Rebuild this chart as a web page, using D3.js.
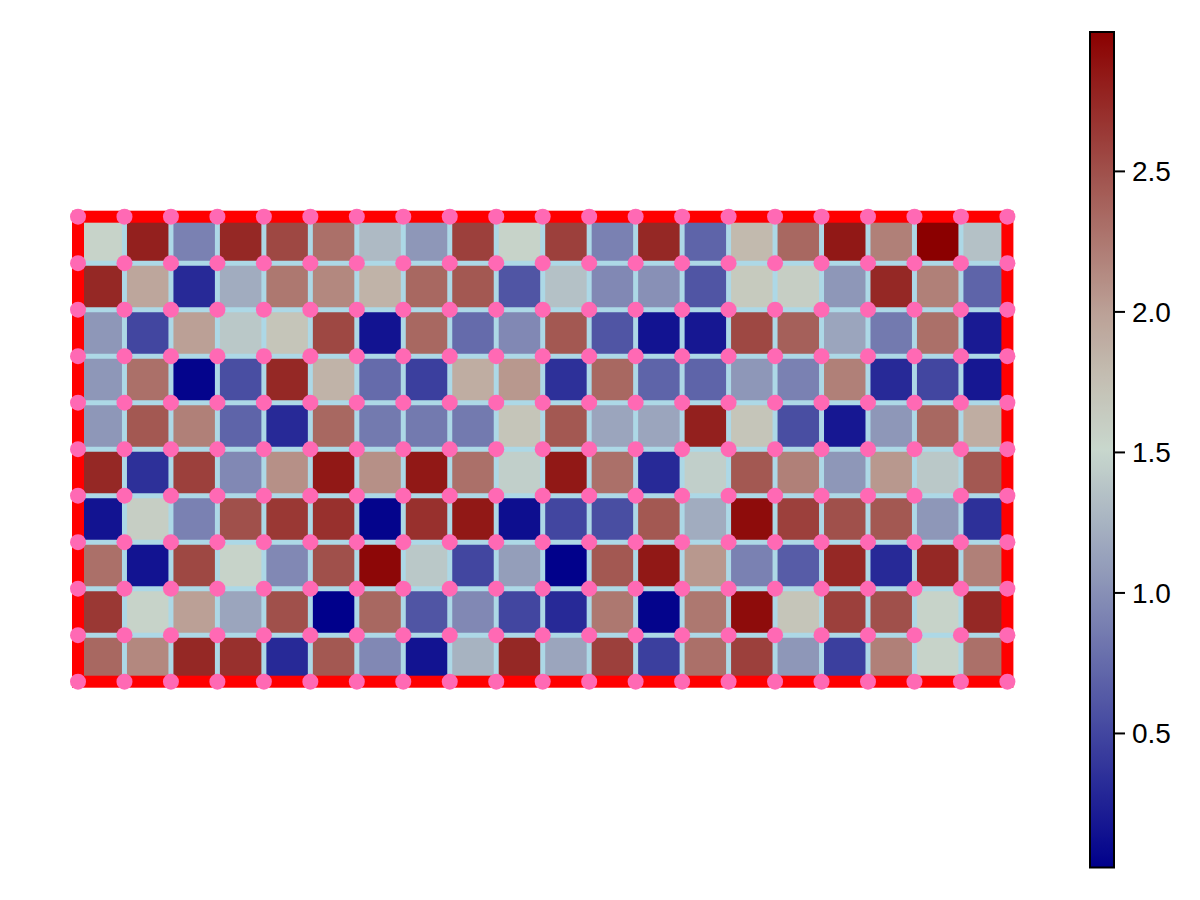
<!DOCTYPE html>
<html>
<head>
<meta charset="utf-8">
<script src="https://cdn.jsdelivr.net/npm/d3@7"></script>
<style>
  html, body { margin: 0; padding: 0; background: #fff; }
  svg { display: block; }
</style>
</head>
<body>
<svg id="chart" width="1200" height="900"></svg>
<script>
// ---- data (rows listed top to bottom, 20 columns each) ----
const nCols = 20;
const nRows = 10;
const row1  = [1.55, 2.80, 0.90, 2.75, 2.55, 2.30, 1.30, 1.05, 2.60, 1.55, 2.60, 0.90, 2.75, 0.70, 1.80, 2.35, 2.85, 2.20, 2.996, 1.35];
const row2  = [2.75, 1.95, 0.30, 1.20, 2.25, 2.15, 1.85, 2.35, 2.45, 0.60, 1.35, 0.95, 1.00, 0.60, 1.65, 1.60, 1.05, 2.75, 2.20, 0.70];
const row3  = [1.05, 0.50, 2.00, 1.40, 1.70, 2.55, 0.15, 2.35, 0.75, 0.95, 2.45, 0.60, 0.15, 0.18, 2.55, 2.40, 1.15, 0.85, 2.30, 0.20];
const row4  = [1.05, 2.30, 0.05, 0.55, 2.75, 1.85, 0.75, 0.45, 1.90, 2.05, 0.35, 2.35, 0.70, 0.70, 1.05, 0.90, 2.20, 0.30, 0.50, 0.18];
const row5  = [1.05, 2.45, 2.20, 0.70, 0.30, 2.35, 0.85, 0.85, 0.85, 1.70, 2.45, 1.15, 1.15, 2.80, 1.70, 0.55, 0.18, 1.05, 2.35, 1.90];
const row6  = [2.75, 0.35, 2.60, 0.95, 2.10, 2.85, 2.10, 2.85, 2.30, 1.45, 2.85, 2.30, 0.30, 1.45, 2.45, 2.20, 1.05, 2.05, 1.40, 2.45];
const row7  = [0.15, 1.60, 0.90, 2.50, 2.65, 2.70, 0.05, 2.70, 2.85, 0.12, 0.50, 0.55, 2.45, 1.20, 2.92, 2.60, 2.50, 2.45, 1.05, 0.35];
const row8  = [2.30, 0.15, 2.55, 1.55, 0.95, 2.50, 2.95, 1.40, 0.50, 1.10, 0.03, 2.45, 2.85, 2.05, 0.90, 0.65, 2.75, 0.30, 2.75, 2.20];
const row9  = [2.65, 1.55, 2.00, 1.15, 2.50, 0.023, 2.35, 0.60, 0.95, 0.50, 0.30, 2.25, 0.05, 2.25, 2.92, 1.70, 2.60, 2.50, 1.55, 2.75];
const row10 = [2.35, 2.15, 2.75, 2.70, 0.30, 2.45, 0.95, 0.15, 1.25, 2.75, 1.15, 2.60, 0.45, 2.30, 2.60, 1.05, 0.45, 2.20, 1.55, 2.30];
const rows = [row1, row2, row3, row4, row5, row6, row7, row8, row9, row10];
const colorbarTicks = [0.5, 1.0, 1.5, 2.0, 2.5];
const colorbarTickLabels = ["0.5", "1.0", "1.5", "2.0", "2.5"];
// colormap stops (fraction of the colour range -> colour)
const cmapStops = [0.0, 0.329, 0.5, 0.581, 0.665, 0.833, 1.0];
const cmapColors = ["#00008b", "#8890b6", "#c8d7cd", "#c4c0b4", "#bba096", "#a0504b", "#8b0000"];

// ---- layout ----
const svg = d3.select("#chart");
const x = d3.scaleLinear().domain([0, nCols]).range([78, 1007.4]);
const y = d3.scaleLinear().domain([0, nRows]).range([216.7, 681.7]);

const cells = [];
rows.forEach((r, ri) => r.forEach((v, ci) => cells.push({ r: ri, c: ci, v })));
const ext = d3.extent(cells, d => d.v);
const color = d3.scaleLinear()
  .domain(cmapStops.map(t => ext[0] + t * (ext[1] - ext[0])))
  .range(cmapColors)
  .interpolate(d3.interpolateRgb);

// heatmap cells
svg.append("g").selectAll("rect").data(cells).join("rect")
  .attr("x", d => x(d.c))
  .attr("y", d => y(d.r))
  .attr("width", d => x(d.c + 1) - x(d.c) + 0.5)
  .attr("height", d => y(d.r + 1) - y(d.r) + 0.5)
  .attr("fill", d => color(d.v));

// light blue grid lines
const g = svg.append("g").attr("stroke", "#add8e6").attr("stroke-width", 5);
g.selectAll("line.v").data(d3.range(1, nCols)).join("line").attr("class", "v")
  .attr("x1", d => x(d)).attr("x2", d => x(d))
  .attr("y1", y(0)).attr("y2", y(nRows));
g.selectAll("line.h").data(d3.range(1, nRows)).join("line").attr("class", "h")
  .attr("y1", d => y(d)).attr("y2", d => y(d))
  .attr("x1", x(0)).attr("x2", x(nCols));

// red border
svg.append("rect")
  .attr("x", x(0)).attr("y", y(0))
  .attr("width", x(nCols) - x(0)).attr("height", y(nRows) - y(0))
  .attr("fill", "none").attr("stroke", "#ff0000").attr("stroke-width", 12);

// pink vertex dots
const verts = [];
d3.range(0, nCols + 1).forEach(i => d3.range(0, nRows + 1).forEach(j => verts.push([i, j])));
svg.append("g").selectAll("circle").data(verts).join("circle")
  .attr("cx", d => x(d[0])).attr("cy", d => y(d[1])).attr("r", 8)
  .attr("fill", "#ff69b4");

// ---- colorbar ----
const cbX = 1090, cbW = 24, cbTop = 32, cbBot = 867.5;
const cy = d3.scaleLinear().domain(ext).range([cbBot, cbTop]);
const defs = svg.append("defs");
const grad = defs.append("linearGradient").attr("id", "cbgrad")
  .attr("x1", 0).attr("y1", 1).attr("x2", 0).attr("y2", 0);
d3.range(0, 201).forEach(i => {
  const t = i / 200;
  grad.append("stop").attr("offset", t)
    .attr("stop-color", color(ext[0] + t * (ext[1] - ext[0])));
});
svg.append("rect")
  .attr("x", cbX).attr("y", cbTop).attr("width", cbW).attr("height", cbBot - cbTop)
  .attr("fill", "url(#cbgrad)").attr("stroke", "#000").attr("stroke-width", 2);

const tk = svg.append("g");
tk.selectAll("line").data(colorbarTicks).join("line")
  .attr("x1", cbX + cbW).attr("x2", cbX + cbW + 11)
  .attr("y1", d => cy(d)).attr("y2", d => cy(d))
  .attr("stroke", "#000").attr("stroke-width", 2);
tk.selectAll("text").data(colorbarTicks).join("text")
  .attr("x", 1132).attr("y", d => cy(d) + 10)
  .attr("font-family", "'Liberation Sans', Arial, Helvetica, sans-serif")
  .attr("font-size", 28).attr("fill", "#000")
  .text((d, i) => colorbarTickLabels[i]);
</script>
</body>
</html>
